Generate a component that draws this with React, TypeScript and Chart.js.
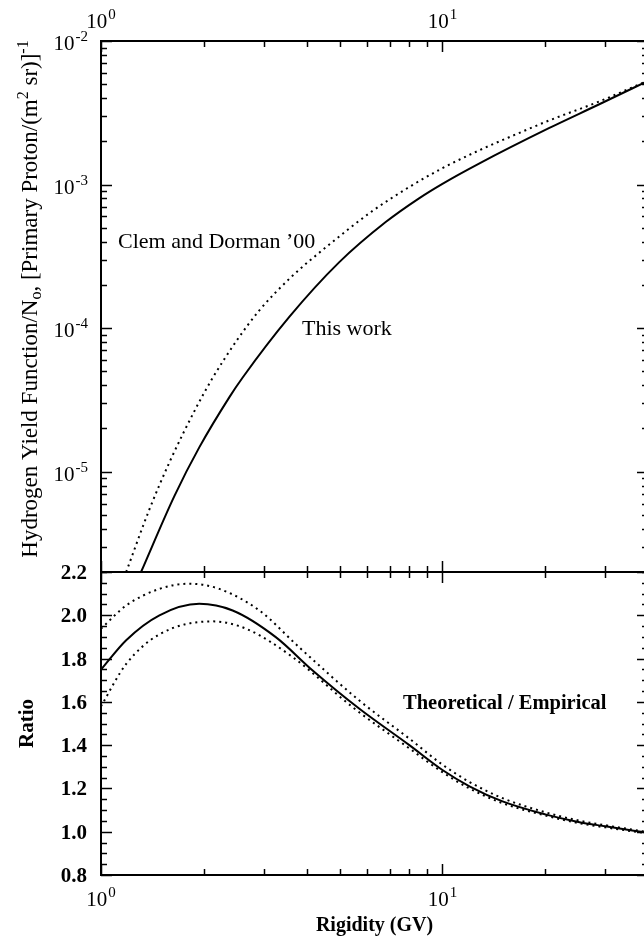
import React, { useEffect, useRef } from "react";
import { Chart, registerables } from "chart.js";

Chart.register(...registerables);

// ---------- data ----------
// Top panel: Hydrogen yield function / No
const rigidityThisWork = [1.31, 1.64, 1.94, 2.38, 2.6, 3.56, 4.98, 6.82, 8.54, 10, 12.8, 20.5, 28.7, 40];
const yieldThisWork = [2.0e-6, 6.76e-6, 1.476e-5, 3.32e-5, 4.53e-5, 1.197e-4, 2.87e-4, 5.48e-4, 8.02e-4, 1.012e-3, 1.4e-3, 2.47e-3, 3.61e-3, 5.28e-3];

const rigidityClem = [1.185, 1.386, 1.586, 1.9, 2.12, 2.5, 2.91, 3.6, 4.56, 6.23, 8, 10, 12.8, 16, 20.5, 28.7, 40];
const yieldClem = [2.0e-6, 5.46e-6, 1.16e-5, 2.79e-5, 4.47e-5, 8.22e-5, 1.33e-4, 2.26e-4, 3.66e-4, 6.53e-4, 9.62e-4, 1.3e-3, 1.73e-3, 2.18e-3, 2.79e-3, 3.78e-3, 5.3e-3];

// Bottom panel: ratio theoretical / empirical
const rigidityRatio = [1, 1.185, 1.483, 1.94, 2.43, 3.25, 4.16, 5.7, 8, 10, 12, 15, 20, 25, 30, 40];
const ratioMain = [1.749, 1.885, 2.0, 2.053, 2.022, 1.899, 1.746, 1.569, 1.4, 1.285, 1.21, 1.14, 1.08, 1.045, 1.025, 0.995];

const rigidityRatioUpper = [1, 1.185, 1.483, 1.815, 2.22, 2.91, 3.8, 5.7, 8, 10, 12, 15, 20, 25, 30, 40];
const ratioUpper = [1.938, 2.045, 2.122, 2.146, 2.122, 2.022, 1.853, 1.607, 1.43, 1.31, 1.23, 1.155, 1.09, 1.052, 1.03, 0.998];

const rigidityRatioLower = [1, 1.185, 1.483, 2.12, 2.66, 3.64, 5.45, 8, 10, 12, 15, 20, 25, 30, 40];
const ratioLower = [1.58, 1.775, 1.912, 1.972, 1.938, 1.807, 1.576, 1.385, 1.275, 1.2, 1.132, 1.075, 1.04, 1.02, 0.992];

// axes
const xMin = 1;
const xMax = 40;
const xMajorTicks = [1, 10];
const xMinorTicks = [2, 3, 4, 5, 6, 7, 8, 9, 20, 30];
const xTickExponents = ["0", "1"];
const yTopMin = 2e-6;
const yTopMax = 1e-2;
const yTopDecades = [-5, -4, -3, -2];
const yBotMin = 0.8;
const yBotMax = 2.2;
const yBotLabels = ["0.8", "1.0", "1.2", "1.4", "1.6", "1.8", "2.0", "2.2"];

// ---------- layout ----------
const W = 652;
const H = 947;
const LEFT = 101;
const RIGHT = 648;
const TOP = 41;
const MID = 572;
const BOTTOM = 875;
const FONT = '"Liberation Serif", "Times New Roman", Times, serif';
const MAJ = 11;
const MIN = 6;

function pts(xs: number[], ys: number[]) {
  return xs.map((x, i) => ({ x, y: ys[i] }));
}

function drawPow(ctx: CanvasRenderingContext2D, base: string, exp: string, x: number, y: number,
  align: "left" | "right" | "center", bs = 21, es = 15, bold = false) {
  const w = bold ? "bold " : "";
  ctx.font = `${w}${bs}px ${FONT}`;
  const bw = ctx.measureText(base).width;
  ctx.font = `${w}${es}px ${FONT}`;
  const ew = ctx.measureText(exp).width;
  const tw = bw + 1 + ew;
  const x0 = align === "left" ? x : align === "right" ? x - tw : x - tw / 2;
  ctx.textAlign = "left";
  ctx.textBaseline = "alphabetic";
  ctx.font = `${w}${bs}px ${FONT}`;
  ctx.fillText(base, x0, y);
  ctx.font = `${w}${es}px ${FONT}`;
  ctx.fillText(exp, x0 + bw + 1, y - 9);
}

type Seg = { t: string; s: number; dy: number };
function drawRich(ctx: CanvasRenderingContext2D, segs: Seg[], cx: number, y: number, weight = "") {
  let total = 0;
  const widths = segs.map((sg) => {
    ctx.font = `${weight}${sg.s}px ${FONT}`;
    const w = ctx.measureText(sg.t).width;
    total += w;
    return w;
  });
  let x = cx - total / 2;
  ctx.textAlign = "left";
  ctx.textBaseline = "alphabetic";
  segs.forEach((sg, i) => {
    ctx.font = `${weight}${sg.s}px ${FONT}`;
    ctx.fillText(sg.t, x, y + sg.dy);
    x += widths[i];
  });
}

function line(ctx: CanvasRenderingContext2D, x1: number, y1: number, x2: number, y2: number) {
  ctx.beginPath();
  ctx.moveTo(x1, y1);
  ctx.lineTo(x2, y2);
  ctx.stroke();
}

const topDecor = {
  id: "topDecor",
  afterDatasetsDraw(chart: any) {
    const ctx: CanvasRenderingContext2D = chart.ctx;
    const { left, right, top, bottom } = chart.chartArea;
    const xs = chart.scales.x;
    const ys = chart.scales.y;
    ctx.save();
    ctx.strokeStyle = "#000";
    ctx.fillStyle = "#000";
    ctx.lineWidth = 1.5;
    // x ticks
    xMajorTicks.concat(xMinorTicks).forEach((v) => {
      const len = xMajorTicks.includes(v) ? MAJ : MIN;
      const px = Math.round(xs.getPixelForValue(v)) + 0.5;
      line(ctx, px, top, px, top + len);
      line(ctx, px, bottom, px, bottom - len);
    });
    // y ticks
    for (let d = -6; d <= -2; d++) {
      for (let m = 1; m <= 9; m++) {
        const v = m * Math.pow(10, d);
        if (v < yTopMin * 0.999 || v > yTopMax * 1.001) continue;
        const len = m === 1 ? MAJ : MIN;
        const py = Math.round(ys.getPixelForValue(v)) + 0.5;
        line(ctx, left, py, left + len, py);
        line(ctx, right, py, right - len, py);
      }
    }
    // frame
    ctx.lineWidth = 2;
    ctx.strokeRect(left, top, right - left, bottom - top);
    // y labels
    yTopDecades.forEach((d) => {
      const py = ys.getPixelForValue(Math.pow(10, d));
      drawPow(ctx, "10", String(d), left - 13, py + 9, "right");
    });
    // top x labels
    xMajorTicks.forEach((v, i) => {
      drawPow(ctx, "10", xTickExponents[i], xs.getPixelForValue(v), top - 13, "center");
    });
    // annotations
    ctx.font = `22px ${FONT}`;
    ctx.textAlign = "left";
    ctx.textBaseline = "alphabetic";
    ctx.fillText("Clem and Dorman \u201900", 118, 248);
    ctx.fillText("This work", 302, 335);
    // y title
    ctx.save();
    ctx.translate(37, 299);
    ctx.rotate(-Math.PI / 2);
    drawRich(ctx, [
      { t: "Hydrogen Yield Function/N", s: 23, dy: 0 },
      { t: "o", s: 16, dy: 4 },
      { t: ", [Primary Proton/(m", s: 23, dy: 0 },
      { t: "2", s: 16, dy: -9 },
      { t: " sr)]", s: 23, dy: 0 },
      { t: "-1", s: 16, dy: -9 },
    ], 0, 0);
    ctx.restore();
    ctx.restore();
  },
};

const botDecor = {
  id: "botDecor",
  afterDatasetsDraw(chart: any) {
    const ctx: CanvasRenderingContext2D = chart.ctx;
    const { left, right, top, bottom } = chart.chartArea;
    const xs = chart.scales.x;
    const ys = chart.scales.y;
    ctx.save();
    ctx.strokeStyle = "#000";
    ctx.fillStyle = "#000";
    ctx.lineWidth = 1.5;
    xMajorTicks.concat(xMinorTicks).forEach((v) => {
      const len = xMajorTicks.includes(v) ? MAJ : MIN;
      const px = Math.round(xs.getPixelForValue(v)) + 0.5;
      line(ctx, px, top, px, top + len);
      line(ctx, px, bottom, px, bottom - len);
    });
    for (let k = 0; k <= 28; k++) {
      const v = yBotMin + k * 0.05;
      const len = k % 4 === 0 ? MAJ : MIN;
      const py = Math.round(ys.getPixelForValue(v)) + 0.5;
      line(ctx, left, py, left + len, py);
      line(ctx, right, py, right - len, py);
    }
    ctx.lineWidth = 2;
    ctx.strokeRect(left, top, right - left, bottom - top);
    // y labels
    ctx.font = `bold 21px ${FONT}`;
    ctx.textAlign = "right";
    ctx.textBaseline = "alphabetic";
    yBotLabels.forEach((lab) => {
      const py = ys.getPixelForValue(parseFloat(lab));
      ctx.fillText(lab, left - 14, py + 7);
    });
    // x labels
    xMajorTicks.forEach((v, i) => {
      drawPow(ctx, "10", xTickExponents[i], xs.getPixelForValue(v), bottom + 31, "center");
    });
    // annotation
    ctx.font = `bold 20.5px ${FONT}`;
    ctx.textAlign = "left";
    ctx.fillText("Theoretical / Empirical", 403, 709);
    // axis titles
    ctx.textAlign = "center";
    ctx.font = `bold 20px ${FONT}`;
    ctx.fillText("Rigidity (GV)", (left + right) / 2, 931);
    ctx.save();
    ctx.translate(33, (top + bottom) / 2);
    ctx.rotate(-Math.PI / 2);
    ctx.font = `bold 21px ${FONT}`;
    ctx.textAlign = "center";
    ctx.fillText("Ratio", 0, 0);
    ctx.restore();
    ctx.restore();
  },
};

const solid = { borderColor: "#000", borderWidth: 2, pointRadius: 0, cubicInterpolationMode: "monotone" as const, fill: false };
const dotted = { ...solid, borderDash: [2, 4], borderCapStyle: "butt" as const };

function baseOptions(pad: { top: number; bottom: number }, yScale: any) {
  return {
    responsive: false,
    maintainAspectRatio: false,
    devicePixelRatio: 1,
    animation: false as const,
    events: [] as any[],
    layout: { padding: { left: LEFT, right: W - RIGHT, top: pad.top, bottom: pad.bottom } },
    plugins: { legend: { display: false }, tooltip: { enabled: false } },
    scales: {
      x: { type: "logarithmic", min: xMin, max: xMax, display: false },
      y: yScale,
    },
  } as any;
}

export default function App() {
  const topRef = useRef<HTMLCanvasElement | null>(null);
  const botRef = useRef<HTMLCanvasElement | null>(null);

  useEffect(() => {
    const topChart = new Chart(topRef.current!, {
      type: "line",
      data: {
        datasets: [
          { ...dotted, label: "Clem and Dorman '00", data: pts(rigidityClem, yieldClem) },
          { ...solid, label: "This work", data: pts(rigidityThisWork, yieldThisWork) },
        ],
      },
      options: baseOptions({ top: TOP, bottom: H - MID }, { type: "logarithmic", min: yTopMin, max: yTopMax, display: false }),
      plugins: [topDecor],
    } as any);
    const botChart = new Chart(botRef.current!, {
      type: "line",
      data: {
        datasets: [
          { ...dotted, label: "Upper", data: pts(rigidityRatioUpper, ratioUpper) },
          { ...dotted, label: "Lower", data: pts(rigidityRatioLower, ratioLower) },
          { ...solid, label: "Ratio", data: pts(rigidityRatio, ratioMain) },
        ],
      },
      options: baseOptions({ top: MID, bottom: H - BOTTOM }, { type: "linear", min: yBotMin, max: yBotMax, display: false }),
      plugins: [botDecor],
    } as any);
    return () => {
      topChart.destroy();
      botChart.destroy();
    };
  }, []);

  const cs: React.CSSProperties = { position: "absolute", left: 0, top: 0, width: W, height: H };
  return (
    <div style={{ position: "fixed", left: 0, top: 0, width: 644, height: 947, overflow: "hidden", background: "#fff" }}>
      <canvas ref={topRef} width={W} height={H} style={cs} />
      <canvas ref={botRef} width={W} height={H} style={cs} />
    </div>
  );
}
